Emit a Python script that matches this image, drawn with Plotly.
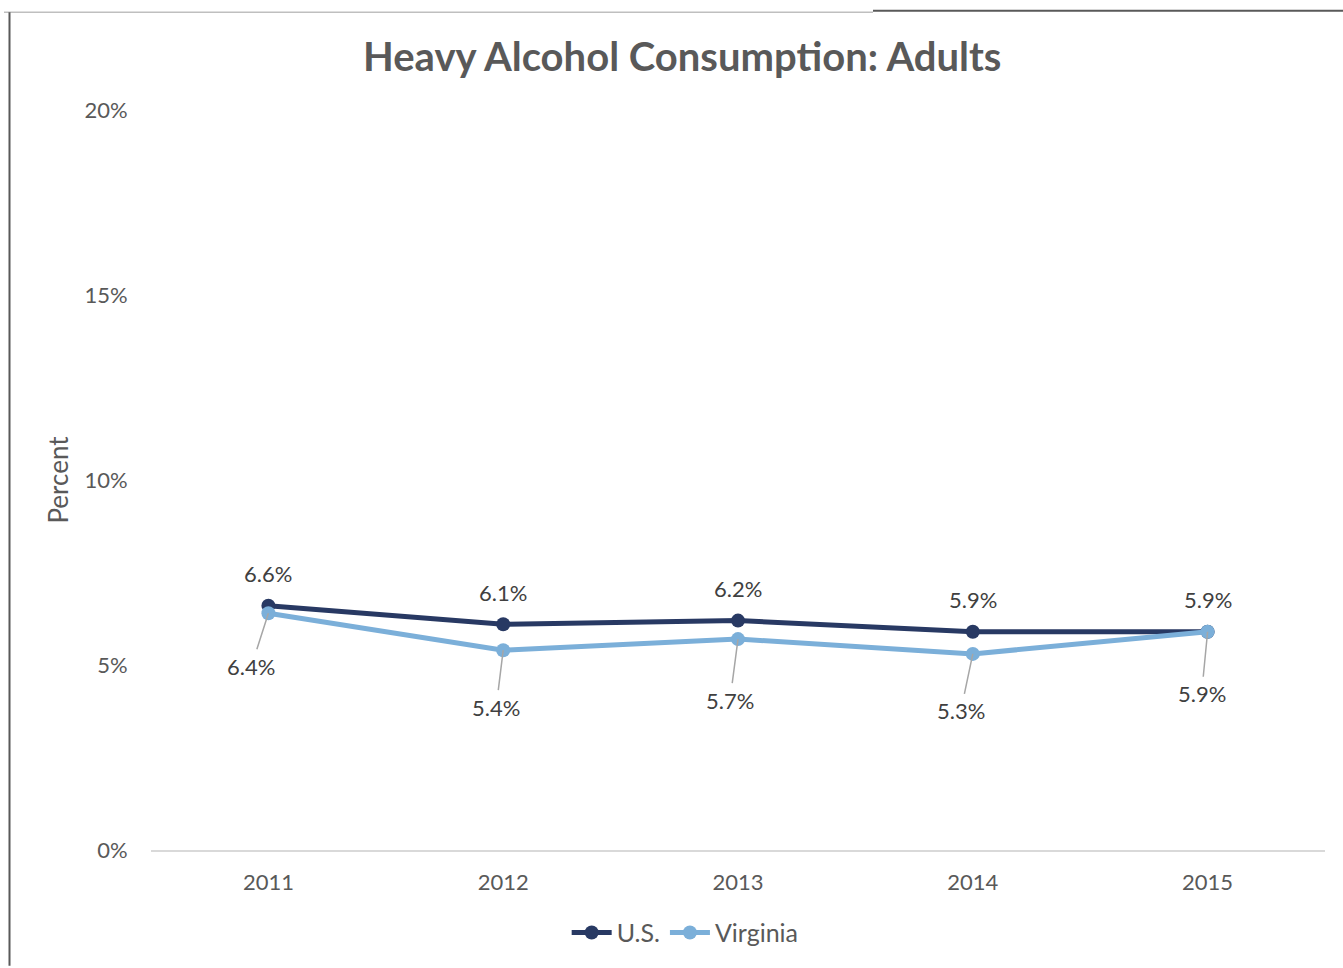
import plotly.graph_objects as go

years = ["2011", "2012", "2013", "2014", "2015"]
us_values = [6.6, 6.1, 6.2, 5.9, 5.9]
virginia_values = [6.4, 5.4, 5.7, 5.3, 5.9]
y_ticks = [0, 5, 10, 15, 20]
y_tick_labels = ["0%", "5%", "10%", "15%", "20%"]

US_COLOR = "#283963"
VA_COLOR = "#7BAFD9"
TEXT = "#595959"
FONT = "Century Gothic, Lato, sans-serif"

fig = go.Figure()
fig.add_trace(go.Scatter(
    x=years, y=us_values, name="U.S.", mode="lines+markers",
    line=dict(color=US_COLOR, width=5), marker=dict(size=14, color=US_COLOR),
))
fig.add_trace(go.Scatter(
    x=years, y=virginia_values, name="Virginia", mode="lines+markers",
    line=dict(color=VA_COLOR, width=5), marker=dict(size=14, color=VA_COLOR),
))

annotations = []
# U.S. labels sit above their points (x given as category index)
for i, v in enumerate(us_values):
    annotations.append(dict(
        x=i, y=v, xref="x", yref="y", text=f"{v:.1f}%", showarrow=False,
        yshift=32, font=dict(family=FONT, size=22, color="#404040"),
    ))
# Virginia labels sit below, joined to the point by a leader line
va_offsets = [(-17, 53), (-7, 57), (-8, 61), (-12, 57), (-6, 62)]
for i, (v, (dx, dy)) in enumerate(zip(virginia_values, va_offsets)):
    annotations.append(dict(
        x=i, y=v, xref="x", yref="y", text=f"{v:.1f}%", showarrow=True,
        arrowhead=0, arrowwidth=1.5, arrowcolor="#A6A6A6", ax=dx, ay=dy,
        standoff=0, borderpad=3,
        font=dict(family=FONT, size=22, color="#404040"),
    ))

# frame lines around the chart
shapes = [
    dict(type="line", xref="paper", yref="paper", x0=(4 - 151) / 1174, x1=(873 - 151) / 1174,
         y0=(852 - 12) / 742, y1=(852 - 12) / 742, line=dict(color="#BFBFBF", width=1.5)),
    dict(type="line", xref="paper", yref="paper", x0=(873 - 151) / 1174, x1=(1343 - 151) / 1174,
         y0=(852 - 10.5) / 742, y1=(852 - 10.5) / 742, line=dict(color="#595959", width=2)),
    dict(type="line", xref="paper", yref="paper", x0=(9.5 - 151) / 1174, x1=(9.5 - 151) / 1174,
         y0=(852 - 968) / 742, y1=(852 - 12) / 742, line=dict(color="#595959", width=2)),
]

fig.update_layout(
    width=1343, height=968,
    margin=dict(l=151, r=18, t=110, b=116),
    paper_bgcolor="white", plot_bgcolor="white",
    title=dict(text="<b>Heavy Alcohol Consumption: Adults</b>", x=0.508, xanchor="center",
               y=1 - 57 / 968, yanchor="middle",
               font=dict(family=FONT, size=40, color=TEXT)),
    xaxis=dict(type="category", range=[-0.5, 4.5], showgrid=False, showline=True,
               linecolor="#D9D9D9", linewidth=1.5, ticks="outside", ticklen=12,
               tickcolor="rgba(0,0,0,0)", tickfont=dict(family=FONT, size=22, color=TEXT),
               zeroline=False),
    yaxis=dict(range=[0, 20], tickvals=y_ticks, ticktext=y_tick_labels, showgrid=False,
               showline=False, zeroline=False, ticks="outside", ticklen=18,
               tickcolor="rgba(0,0,0,0)", tickfont=dict(family=FONT, size=22, color=TEXT),
               title=dict(text="Percent", font=dict(family=FONT, size=26, color=TEXT), standoff=8)),
    legend=dict(orientation="h", x=0.455, xanchor="center", y=-(935 - 852) / 742, yanchor="middle",
                font=dict(family=FONT, size=25, color=TEXT), itemwidth=40, tracegroupgap=0),
    annotations=annotations,
    shapes=shapes,
    showlegend=True,
)

fig.write_html("out.html")
